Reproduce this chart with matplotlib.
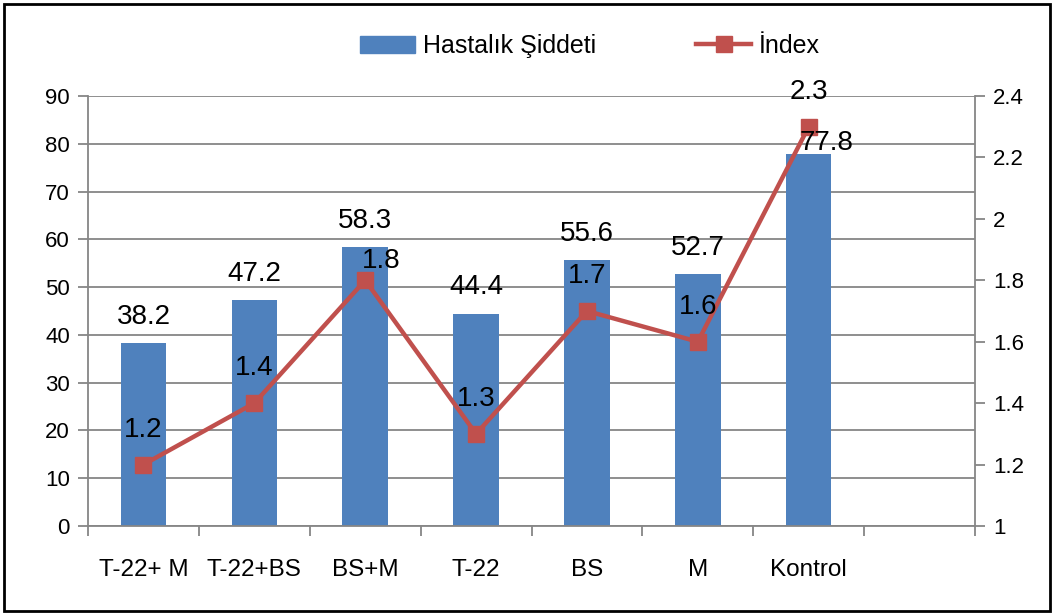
import matplotlib
matplotlib.use("Agg")
import matplotlib.pyplot as plt
from matplotlib.patches import Rectangle, Patch
from matplotlib.lines import Line2D
from matplotlib import font_manager

names = {f.name for f in font_manager.fontManager.ttflist}
if 'Liberation Sans Narrow' in names:
    FAM = ['Liberation Sans Narrow', 'DejaVu Sans']
    K = 1.2
else:
    FAM = ['Liberation Sans', 'DejaVu Sans']
    K = 1.0
plt.rcParams['font.family'] = FAM

categories = ["T-22+ M", "T-22+BS", "BS+M", "T-22", "BS", "M", "Kontrol"]
severity = [38.2, 47.2, 58.3, 44.4, 55.6, 52.7, 77.8]
index_vals = [1.2, 1.4, 1.8, 1.3, 1.7, 1.6, 2.3]
left_ticks = [0, 10, 20, 30, 40, 50, 60, 70, 80, 90]
right_ticks = [1, 1.2, 1.4, 1.6, 1.8, 2, 2.2, 2.4]

BAR = "#4F81BD"
LINE = "#C0504D"
GRAY = "#868686"

fig = plt.figure(figsize=(10.54, 6.14), dpi=100)
ax = fig.add_axes([88/1054, 1-526/614, (975-88)/1054, (526-96)/614])
ax2 = ax.twinx()

x = list(range(len(categories)))
ax.bar(x, severity, width=0.41, color=BAR, zorder=2)
ax.set_xlim(-0.5, len(categories) + 0.5)
ax.set_ylim(0, 90)
ax.set_yticks(left_ticks)
ax.yaxis.grid(True, color=GRAY, linewidth=1.3, zorder=0)
ax.set_axisbelow(True)

ax.set_xticks(x)
ax.set_xticklabels(categories, fontsize=17.5*K)
ax.set_xticks([i - 0.5 for i in range(len(categories) + 2)], minor=True)
ax.tick_params(axis='x', which='major', length=0, pad=24)
ax.tick_params(axis='x', which='minor', length=7, width=1.3, color=GRAY, direction='out')
ax.tick_params(axis='y', length=7, width=1.3, color=GRAY, labelsize=16*K, pad=6)

for s in ['top', 'right']:
    ax.spines[s].set_visible(False)
for s in ['left', 'bottom']:
    ax.spines[s].set_color(GRAY)
    ax.spines[s].set_linewidth(1.3)

ax2.plot(x, index_vals, color=LINE, linewidth=3.2, marker='s', markersize=11,
         markerfacecolor=LINE, markeredgecolor=LINE, zorder=3)
ax2.set_ylim(1, 2.4)
ax2.set_yticks(right_ticks)
ax2.set_yticklabels(['{:g}'.format(t) for t in right_ticks])
ax2.tick_params(axis='y', length=7, width=1.3, color=GRAY, labelsize=16*K, pad=6)
for s in ['top', 'left', 'bottom']:
    ax2.spines[s].set_visible(False)
ax2.spines['right'].set_color(GRAY)
ax2.spines['right'].set_linewidth(1.3)

for i, v in enumerate(severity):
    dx, dy = 0, 14
    if i == 6:
        dx, dy = 13, 3
    ax2.annotate('{:g}'.format(v), xy=(i, v), xycoords=ax.transData,
                 xytext=(dx, dy), textcoords='offset points',
                 ha='center', va='baseline', fontsize=20*K, zorder=5)

for i, v in enumerate(index_vals):
    dx, dy = 0, 20
    if i == 2:
        dx, dy = 11.5, 8.5
    ax2.annotate('{:g}'.format(v), xy=(i, v), xytext=(dx, dy),
                 textcoords='offset points', ha='center', va='baseline',
                 fontsize=20*K, zorder=5)

handles = [Patch(facecolor=BAR, edgecolor=BAR),
           Line2D([0], [0], color=LINE, linewidth=3.2, marker='s', markersize=11)]
fig.legend(handles, ["Hastalık Şiddeti", "İndex"], loc='center',
           bbox_to_anchor=(590/1054, 1-46/614), ncol=2, frameon=False,
           fontsize=18*K, handlelength=2.2/K, handletextpad=0.3/K,
           columnspacing=4.0/K)

fig.patches.append(Rectangle((4/1054, 3/614), 1046/1054, 607/614,
                             transform=fig.transFigure, fill=False,
                             edgecolor='black', linewidth=2))

fig.savefig("out.png", dpi=100)
